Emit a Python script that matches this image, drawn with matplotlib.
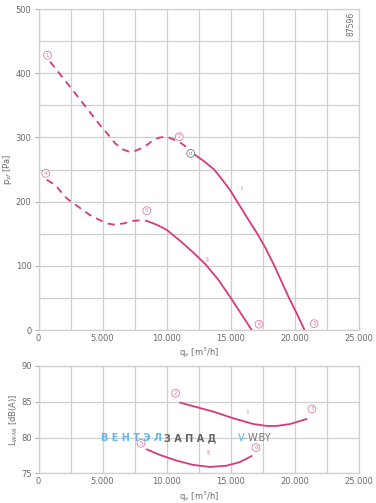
import matplotlib
matplotlib.use("Agg")
import matplotlib.pyplot as plt
from matplotlib.ticker import FuncFormatter, MultipleLocator

# ---- data ----
# pressure curve I
p1_dash_x = [900, 2850, 4800, 5580, 5970, 6490, 7010, 7400, 7920, 8440, 8960, 9480, 10000, 10520, 11040, 11560, 11950]
p1_dash_y = [418, 369, 319, 301, 291, 282, 278, 278, 282, 288, 296, 300, 301, 297, 292, 285, 278]
p1_solid_x = [11950, 12200, 12900, 13700, 14300, 14940, 15500, 16240, 17070, 17700, 18350, 18900, 19540, 20140, 20750]
p1_solid_y = [278, 273, 263, 250, 235, 218, 200, 176, 150, 128, 102, 78, 50, 26, 0]
# pressure curve II
p2_dash_x = [640, 1290, 2200, 3240, 4020, 4800, 5320, 5970, 6620, 7400, 7920, 8440]
p2_dash_y = [234, 226, 205, 190, 179, 171, 166, 164, 166, 170, 171, 170]
p2_solid_x = [8440, 9220, 10000, 11040, 12000, 13000, 14000, 15000, 15980, 16630]
p2_solid_y = [170, 164, 156, 139, 122, 103, 79, 50, 20, 0]
# sound power curves
l1_x = [11040, 13640, 15200, 16760, 17800, 18580, 19620, 20920]
l1_y = [84.88, 83.62, 82.69, 81.89, 81.62, 81.62, 81.89, 82.59]
l2_x = [8440, 9480, 10780, 12080, 13380, 14680, 15720, 16630]
l2_y = [78.35, 77.56, 76.77, 76.17, 75.89, 76.07, 76.58, 77.42]

# point markers (label, x, y)
p_marks = [("1", 700, 428), ("2", 10980, 301), ("3", 21500, 10),
           ("4", 560, 244), ("5", 8440, 186), ("6", 17200, 9)]
p_nmark = ("n", 11870, 275)
p_curve_labels = [("I", 15850, 220), ("II", 13170, 109)]
l_marks = [("2", 10690, 86.2), ("3", 21330, 84.0), ("5", 7995, 79.2), ("6", 16960, 78.6)]
l_curve_labels = [("I", 16290, 83.6), ("II", 13270, 77.8)]

x_ticks = [0, 5000, 10000, 15000, 20000, 25000]
p_ticks = [0, 100, 200, 300, 400, 500]
l_ticks = [75, 80, 85, 90]

CURVE = "#d63a7c"
PINK = "#e07aa8"
GRID = "#cfcfcf"
TXT = "#6a6a6a"

fig = plt.figure(figsize=(3.76, 5.03), dpi=100)
ax1 = fig.add_axes([0.1024, 0.3439, 0.8524, 0.6382])
ax2 = fig.add_axes([0.1024, 0.0590, 0.8524, 0.2134])

fmt = FuncFormatter(lambda v, p: f"{int(v):,}".replace(",", "."))


def style(ax, yt, ylim, yminor):
    ax.set_xlim(0, 25000)
    ax.set_ylim(*ylim)
    ax.set_xticks(x_ticks)
    ax.xaxis.set_major_formatter(fmt)
    ax.xaxis.set_minor_locator(MultipleLocator(2500))
    ax.set_yticks(yt)
    if yminor:
        ax.yaxis.set_minor_locator(MultipleLocator(yminor))
    ax.grid(True, which="both", color=GRID, lw=0.9)
    ax.set_axisbelow(True)
    for s in ax.spines.values():
        s.set_color(GRID)
        s.set_linewidth(0.9)
    ax.tick_params(axis="both", which="both", labelsize=6, colors=TXT)
    ax.tick_params(axis="x", which="both", length=0, pad=3)
    ax.tick_params(axis="y", which="major", length=3, width=0.6, color="#999999", pad=2)
    ax.tick_params(axis="y", which="minor", length=0)
    ax.set_xlabel("q$_v$ [m$^3$/h]", fontsize=6, color=TXT, labelpad=2)


style(ax1, p_ticks, (0, 500), 50)
style(ax2, l_ticks, (75, 90), None)

ax1.set_ylabel("p$_{sf}$ [Pa]", fontsize=6, color=TXT, labelpad=1)
ax2.set_ylabel("L$_{WA6}$ [dB(A)]", fontsize=6, color=TXT, labelpad=1)

kw = dict(color=CURVE, lw=1.3, solid_joinstyle="round", solid_capstyle="round")
ax1.plot(p1_dash_x, p1_dash_y, ls=(0, (4, 3)), color=CURVE, lw=1.3)
ax1.plot(p1_solid_x, p1_solid_y, **kw)
ax1.plot(p2_dash_x, p2_dash_y, ls=(0, (4, 3)), color=CURVE, lw=1.3)
ax1.plot(p2_solid_x, p2_solid_y, **kw)
ax2.plot(l1_x, l1_y, **kw)
ax2.plot(l2_x, l2_y, **kw)


def circ(ax, t, x, y, col):
    ax.text(x, y, t, fontsize=4, color=col, ha="center", va="center",
            bbox=dict(boxstyle="circle,pad=0.25", fc="white", ec=col, lw=0.6))


for t, x, y in p_marks:
    circ(ax1, t, x, y, PINK)
circ(ax1, p_nmark[0], p_nmark[1], p_nmark[2], "#777777")
for t, x, y in l_marks:
    circ(ax2, t, x, y, PINK)
for t, x, y in p_curve_labels:
    ax1.text(x, y, t, fontsize=5, color=PINK, ha="center", va="center")
for t, x, y in l_curve_labels:
    ax2.text(x, y, t, fontsize=5, color=PINK, ha="center", va="center")

ax1.text(0.99, 0.955, "87596", rotation=90, fontsize=5.5, color=TXT,
         ha="right", va="center", transform=ax1.transAxes)

# watermark
wy = 1 - 438 / 503
fig.text(101 / 376, wy, "В Е Н Т Э Л", fontsize=7, color="#5aaee6",
         ha="left", va="center", fontweight="bold", alpha=0.9)
fig.text(164 / 376, wy, "З А П А Д", fontsize=7, color="#555555",
         ha="left", va="center", fontweight="bold", alpha=0.9)
fig.text(238 / 376, wy, "V-", fontsize=7, color="#5aaee6", ha="left", va="center")
fig.text(248 / 376, wy, "W.BY", fontsize=7, color="#777777", ha="left", va="center")

fig.savefig("out.png", dpi=100, facecolor="white")
